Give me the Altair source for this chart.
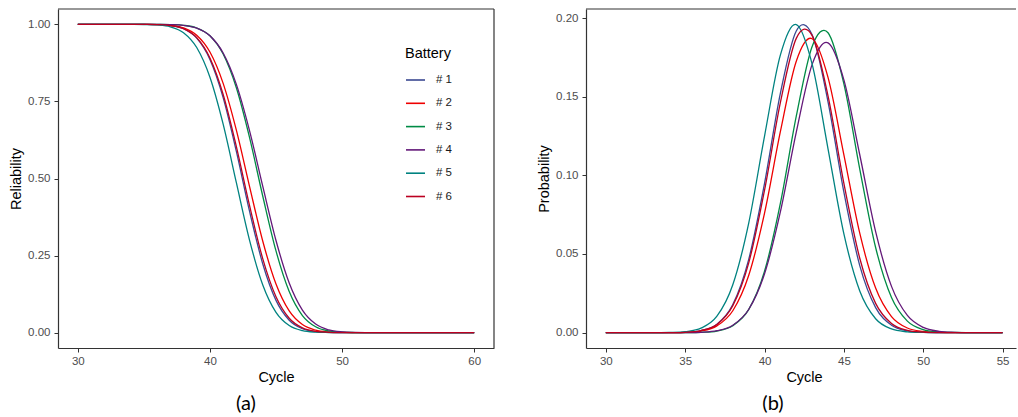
import altair as alt
import pandas as pd

FONT = "Liberation Sans"

batteries = ["# 1", "# 2", "# 3", "# 4", "# 5", "# 6"]
colors = ["#3B4992", "#EE0000", "#008B45", "#631879", "#008280", "#BB0021"]

# ---- panel (a): reliability vs cycle ----
cycle_a = [30, 31, 32, 33, 34, 35, 36, 37, 38, 39, 40, 41, 42, 43, 44, 45,
           46, 47, 48, 49, 50, 51, 52, 53, 54, 55, 56, 57, 58, 59, 60]
rel_1 = [1.0, 1.0, 1.0, 1.0, 1.0, 0.9999, 0.9993, 0.9964, 0.9858, 0.9554, 0.8863,
         0.7624, 0.5877, 0.3932, 0.2226, 0.1045, 0.0402, 0.0125, 0.0031, 0.0006,
         0.0001, 0, 0, 0, 0, 0, 0, 0, 0, 0, 0]
rel_2 = [1.0, 1.0, 1.0, 1.0, 1.0, 0.9999, 0.9994, 0.9970, 0.9887, 0.9650, 0.9103,
         0.8087, 0.6568, 0.4738, 0.2963, 0.1575, 0.0702, 0.0260, 0.0079, 0.0020,
         0.0004, 0.0001, 0, 0, 0, 0, 0, 0, 0, 0, 0]
rel_3 = [1.0, 1.0, 1.0, 1.0, 1.0, 1.0, 0.9999, 0.9994, 0.9971, 0.9884, 0.9631,
         0.9039, 0.7943, 0.6324, 0.4424, 0.2650, 0.1333, 0.0554, 0.0189, 0.0052,
         0.0012, 0.0002, 0, 0, 0, 0, 0, 0, 0, 0, 0]
rel_4 = [1.0, 1.0, 1.0, 1.0, 1.0, 1.0, 0.9999, 0.9993, 0.9967, 0.9878, 0.9630,
         0.9073, 0.8054, 0.6547, 0.4742, 0.2988, 0.1609, 0.0730, 0.0276, 0.0087,
         0.0022, 0.0005, 0.0001, 0, 0, 0, 0, 0, 0, 0, 0]
rel_5 = [1.0, 1.0, 1.0, 1.0, 1.0, 0.9997, 0.9982, 0.9923, 0.9733, 0.9250, 0.8285,
         0.6762, 0.4863, 0.2995, 0.1545, 0.0657, 0.0228, 0.0064, 0.0014, 0.0003,
         0, 0, 0, 0, 0, 0, 0, 0, 0, 0, 0]
rel_6 = [1.0, 1.0, 1.0, 1.0, 1.0, 0.9999, 0.9993, 0.9964, 0.9862, 0.9571, 0.8912,
         0.7727, 0.6034, 0.4117, 0.2393, 0.1162, 0.0465, 0.0152, 0.0040, 0.0009,
         0.0001, 0, 0, 0, 0, 0, 0, 0, 0, 0, 0]

# ---- panel (b): probability density vs cycle ----
cycle_b = [30, 31, 32, 33, 34, 35, 36, 37, 38, 39, 40, 41, 42, 43, 44, 45,
           46, 47, 48, 49, 50, 51, 52, 53, 54, 55]
prob_1 = [0, 0, 0, 0, 0, 0.0002, 0.0013, 0.0053, 0.0178, 0.0464, 0.0949, 0.1523,
          0.1918, 0.1894, 0.1468, 0.0893, 0.0426, 0.0159, 0.0047, 0.0011, 0.0002,
          0, 0, 0, 0, 0]
prob_2 = [0, 0, 0, 0, 0, 0.0002, 0.0010, 0.0043, 0.0139, 0.0363, 0.0760, 0.1279,
          0.1726, 0.1869, 0.1623, 0.1131, 0.0632, 0.0283, 0.0102, 0.0029, 0.0007,
          0.0001, 0, 0, 0, 0]
prob_3 = [0, 0, 0, 0, 0, 0, 0.0002, 0.0010, 0.0044, 0.0146, 0.0390, 0.0823,
          0.1376, 0.1820, 0.1907, 0.1582, 0.1040, 0.0541, 0.0223, 0.0073, 0.0019,
          0.0004, 0.0001, 0, 0, 0]
prob_4 = [0, 0, 0, 0, 0, 0, 0.0002, 0.0012, 0.0047, 0.0147, 0.0374, 0.0769,
          0.1275, 0.1706, 0.1843, 0.1607, 0.1131, 0.0642, 0.0294, 0.0109, 0.0033,
          0.0008, 0.0002, 0, 0, 0]
prob_5 = [0, 0, 0, 0, 0.0001, 0.0006, 0.0028, 0.0104, 0.0304, 0.0695, 0.1250,
          0.1766, 0.1959, 0.1707, 0.1169, 0.0628, 0.0265, 0.0088, 0.0023, 0.0005,
          0.0001, 0, 0, 0, 0, 0]
prob_6 = [0, 0, 0, 0, 0, 0.0002, 0.0013, 0.0052, 0.0171, 0.0442, 0.0906, 0.1464,
          0.1871, 0.1889, 0.1506, 0.0949, 0.0473, 0.0186, 0.0058, 0.0014, 0.0003,
          0, 0, 0, 0, 0]

rel_series = [rel_1, rel_2, rel_3, rel_4, rel_5, rel_6]
prob_series = [prob_1, prob_2, prob_3, prob_4, prob_5, prob_6]

rows_a = []
for name, vals in zip(batteries, rel_series):
    for c, v in zip(cycle_a, vals):
        rows_a.append({"Cycle": c, "Reliability": v, "Battery": name})
df_a = pd.DataFrame(rows_a)

rows_b = []
for name, vals in zip(batteries, prob_series):
    for c, v in zip(cycle_b, vals):
        rows_b.append({"Cycle": c, "Probability": v, "Battery": name})
df_b = pd.DataFrame(rows_b)

FRAME = "#333333"
axis_style = dict(
    labelFont=FONT, labelFontSize=11.5, labelColor="#4D4D4D",
    titleFont=FONT, titleFontSize=14.5, titleColor="#000000", titleFontWeight="normal",
    tickColor=FRAME, tickSize=4, tickWidth=1, grid=False,
    domain=True, domainColor=FRAME, domainWidth=1.2,
)

W_A, H = 436, 339
W_B = 430

color_scale = alt.Scale(domain=batteries, range=colors)

legend_a = alt.Legend(
    title="Battery", orient="none", legendX=347, legendY=38,
    symbolType="stroke", symbolSize=361, symbolStrokeWidth=1.6,
    labelFont=FONT, labelFontSize=11.5, labelColor="#1a1a1a", labelOffset=10,
    titleFont=FONT, titleFontSize=14.5, titleFontWeight="normal", titleColor="#000000",
    titlePadding=8, rowPadding=7.3,
)

lines_a = alt.Chart(df_a).mark_line(strokeWidth=1.3, interpolate="cardinal").encode(
    x=alt.X("Cycle:Q", scale=alt.Scale(domain=[28.5, 61.5], nice=False, zero=False),
            axis=alt.Axis(values=[30, 40, 50, 60], format="d", title="Cycle",
                          labelPadding=3, titlePadding=4, **axis_style)),
    y=alt.Y("Reliability:Q", scale=alt.Scale(domain=[-0.05, 1.05], nice=False),
            axis=alt.Axis(values=[0, 0.25, 0.5, 0.75, 1.0], format=".2f", title="Reliability",
                          labelPadding=4, titlePadding=4, **axis_style)),
    color=alt.Color("Battery:N", scale=color_scale, legend=legend_a, sort=batteries),
)

frame_df = pd.DataFrame({"k": [0]})
top_a = alt.Chart(frame_df).mark_rule(color=FRAME, strokeWidth=1.2).encode(
    x=alt.value(0), x2=alt.value(W_A), y=alt.value(0))
right_a = alt.Chart(frame_df).mark_rule(color=FRAME, strokeWidth=1.2).encode(
    x=alt.value(W_A), y=alt.value(0), y2=alt.value(H))

panel_a = alt.layer(lines_a, top_a, right_a).properties(
    width=W_A, height=H,
    title=alt.TitleParams("(a)", orient="bottom", anchor="middle", dx=-30, offset=10,
                          font="Lato", fontSize=20, fontWeight="normal", color="#000000"),
)

lines_b = alt.Chart(df_b).mark_line(strokeWidth=1.3, interpolate="cardinal").encode(
    x=alt.X("Cycle:Q", scale=alt.Scale(domain=[28.75, 55.845], nice=False, zero=False),
            axis=alt.Axis(values=[30, 35, 40, 45, 50, 55], format="d", title="Cycle",
                          titleX=218, labelPadding=3, titlePadding=4, **axis_style)),
    y=alt.Y("Probability:Q", scale=alt.Scale(domain=[-0.0098, 0.2058], nice=False),
            axis=alt.Axis(values=[0, 0.05, 0.10, 0.15, 0.20], format=".2f", title="Probability",
                          labelPadding=4, titlePadding=4, **axis_style)),
    color=alt.Color("Battery:N", scale=color_scale, legend=None, sort=batteries),
)
top_b = alt.Chart(frame_df).mark_rule(color=FRAME, strokeWidth=1.2).encode(
    x=alt.value(0), x2=alt.value(W_B), y=alt.value(0))

panel_b = alt.layer(lines_b, top_b).properties(
    width=W_B, height=H,
    title=alt.TitleParams("(b)", orient="bottom", anchor="middle", dx=-28, offset=10,
                          font="Lato", fontSize=20, fontWeight="normal", color="#000000"),
)

chart = alt.hconcat(panel_a, panel_b, spacing=41).resolve_scale(
    color="independent"
).properties(
    padding={"left": 8, "top": 8, "right": 0, "bottom": 0},
    background="white",
).configure_view(stroke=None)

chart.save("out.html", embed_options={"renderer": "svg", "actions": False})
